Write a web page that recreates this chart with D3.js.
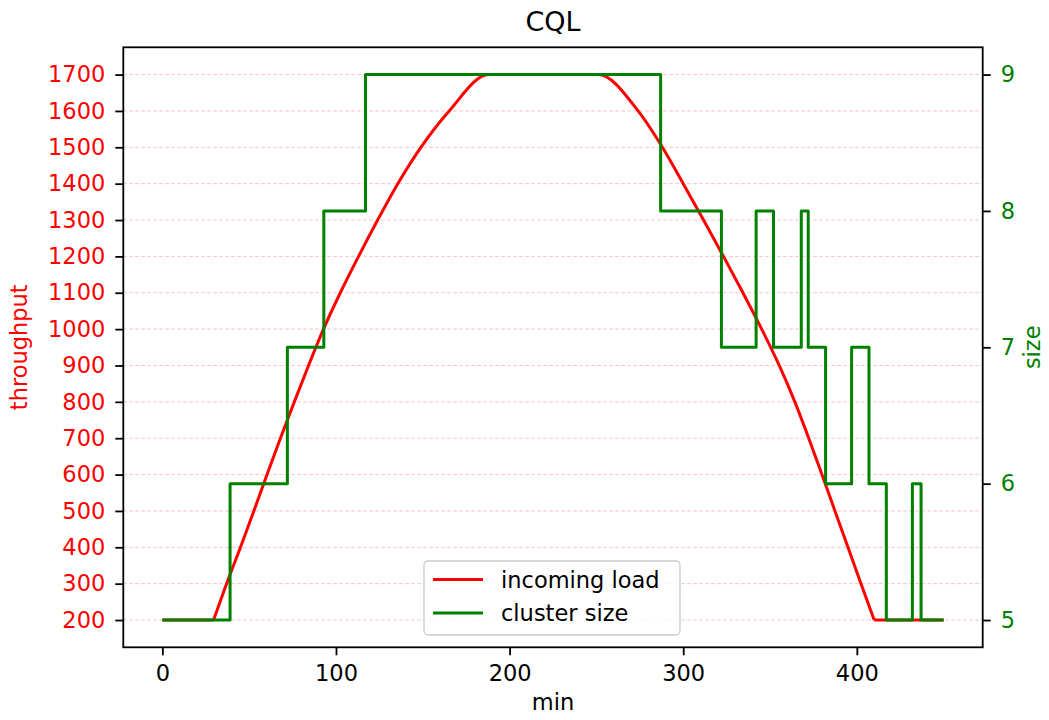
<!DOCTYPE html>
<html>
<head>
<meta charset="utf-8">
<script src="https://cdn.jsdelivr.net/npm/d3@7"></script>
<style>
  body { margin: 0; background: #fff; }
  text { font-family: "DejaVu Sans", sans-serif; }
</style>
</head>
<body>
<svg id="chart" width="1049" height="720"></svg>
<script>
// incoming load (throughput)
const loadMin = [0, 29.5, 37, 45, 52.7, 60.3, 68, 76, 84.2, 92.8, 102.5, 113, 124, 135.6, 148.9, 165.2, 188, 220, 251,
                 274, 288, 300, 311.7, 323.2, 334.4, 345.2, 355.3, 364.3, 372.3, 379.9, 387.4, 394.9, 402.4, 410, 450];
const loadVal = [200, 200, 300, 400, 500, 600, 700, 800, 900, 1000, 1100, 1200, 1300, 1400, 1500, 1600, 1700, 1700, 1700,
                 1600, 1500, 1400, 1300, 1200, 1100, 1000, 900, 800, 700, 600, 500, 400, 300, 200, 200];

// cluster size, value holds from that minute on
const sizeMin = [0, 39, 72, 93, 117, 287, 322, 342, 352, 368, 372, 382, 397, 407, 417, 432, 437, 450];
const sizeVal = [5, 6, 7, 8, 9, 8, 7, 8, 7, 8, 7, 6, 7, 6, 5, 6, 5, 5];

const xTicks = [0, 100, 200, 300, 400];
const leftTicks = [200, 300, 400, 500, 600, 700, 800, 900, 1000, 1100, 1200, 1300, 1400, 1500, 1600, 1700];
const rightTicks = [5, 6, 7, 8, 9];
const legendLabels = ["incoming load", "cluster size"];

const RED = "#ff0000", GREEN = "#008000";
const pL = 123.3, pR = 982.7, pT = 47.3, pB = 647.3;
const fs = 22.5;

const svg = d3.select("#chart");

const x = d3.scaleLinear([-22.5, 472.5], [pL, pR]);
const yL = d3.scaleLinear([125, 1775], [pB, pT]);
const yR = d3.scaleLinear([4.8, 9.2], [pB, pT]);

// grid
svg.append("g")
  .selectAll("line")
  .data(leftTicks)
  .join("line")
  .attr("x1", pL).attr("x2", pR)
  .attr("y1", d => yL(d)).attr("y2", d => yL(d))
  .attr("stroke", RED)
  .attr("stroke-opacity", 0.25)
  .attr("stroke-width", 1)
  .attr("stroke-dasharray", "3.5,2.5");

const load = loadMin.map((m, i) => [m, loadVal[i]]);
const size = sizeMin.map((m, i) => [m, sizeVal[i]]);

const lineLin = d3.line().x(d => x(d[0])).y(d => yL(d[1]));
const lineSmooth = d3.line().x(d => x(d[0])).y(d => yL(d[1])).curve(d3.curveMonotoneX);

// flat start, smooth ramp, flat end
const n = load.length;
const loadPath = lineLin(load.slice(0, 2)) + lineSmooth(load.slice(1, n - 1)) + lineLin(load.slice(n - 2));

svg.append("path")
  .attr("fill", "none")
  .attr("stroke", RED)
  .attr("stroke-width", 3)
  .attr("stroke-linejoin", "round")
  .attr("d", loadPath);

svg.append("path")
  .datum(size)
  .attr("fill", "none")
  .attr("stroke", GREEN)
  .attr("stroke-width", 3)
  .attr("stroke-linejoin", "round")
  .attr("d", d3.line().x(d => x(d[0])).y(d => yR(d[1])).curve(d3.curveStepAfter));

// frame
svg.append("rect")
  .attr("x", pL).attr("y", pT)
  .attr("width", pR - pL).attr("height", pB - pT)
  .attr("fill", "none")
  .attr("stroke", "#000")
  .attr("stroke-width", 1.8);

function styleAxis(g, color) {
  g.select(".domain").remove();
  g.selectAll(".tick line").attr("stroke", "#000").attr("stroke-width", 1.8);
  g.selectAll(".tick text")
    .attr("fill", color)
    .style("font-size", fs + "px")
    .style("font-family", "DejaVu Sans");
}

svg.append("g")
  .attr("transform", `translate(0,${pB})`)
  .call(d3.axisBottom(x).tickValues(xTicks).tickFormat(d3.format("d")).tickSize(8).tickPadding(10))
  .call(g => styleAxis(g, "#000"));

svg.append("g")
  .attr("transform", `translate(${pL},0)`)
  .call(d3.axisLeft(yL).tickValues(leftTicks).tickFormat(d3.format("d")).tickSize(8).tickPadding(10))
  .call(g => styleAxis(g, RED));

svg.append("g")
  .attr("transform", `translate(${pR},0)`)
  .call(d3.axisRight(yR).tickValues(rightTicks).tickFormat(d3.format("d")).tickSize(8).tickPadding(10))
  .call(g => styleAxis(g, GREEN));

// title and labels
svg.append("text")
  .attr("x", (pL + pR) / 2).attr("y", 30.5)
  .attr("text-anchor", "middle")
  .style("font-size", "27px")
  .text("CQL");

svg.append("text")
  .attr("x", (pL + pR) / 2).attr("y", 710)
  .attr("text-anchor", "middle")
  .style("font-size", fs + "px")
  .text("min");

svg.append("text")
  .attr("transform", `translate(27,${(pT + pB) / 2}) rotate(-90)`)
  .attr("text-anchor", "middle")
  .attr("fill", RED)
  .style("font-size", fs + "px")
  .text("throughput");

svg.append("text")
  .attr("transform", `translate(1040,${(pT + pB) / 2}) rotate(-90)`)
  .attr("text-anchor", "middle")
  .attr("fill", GREEN)
  .style("font-size", fs + "px")
  .text("size");

// legend
const leg = svg.append("g").attr("transform", "translate(424,561)");
leg.append("rect")
  .attr("width", 256).attr("height", 74)
  .attr("rx", 4)
  .attr("fill", "#fff").attr("fill-opacity", 0.8)
  .attr("stroke", "#cccccc").attr("stroke-width", 1.3);

const rows = leg.selectAll("g.row")
  .data(legendLabels)
  .join("g")
  .attr("class", "row")
  .attr("transform", (d, i) => `translate(0,${18.5 + i * 33.5})`);

rows.append("line")
  .attr("x1", 9).attr("x2", 59)
  .attr("stroke", (d, i) => i === 0 ? RED : GREEN)
  .attr("stroke-width", 3);

rows.append("text")
  .attr("x", 77).attr("y", 8)
  .style("font-size", fs + "px")
  .text(d => d);
</script>
</body>
</html>
